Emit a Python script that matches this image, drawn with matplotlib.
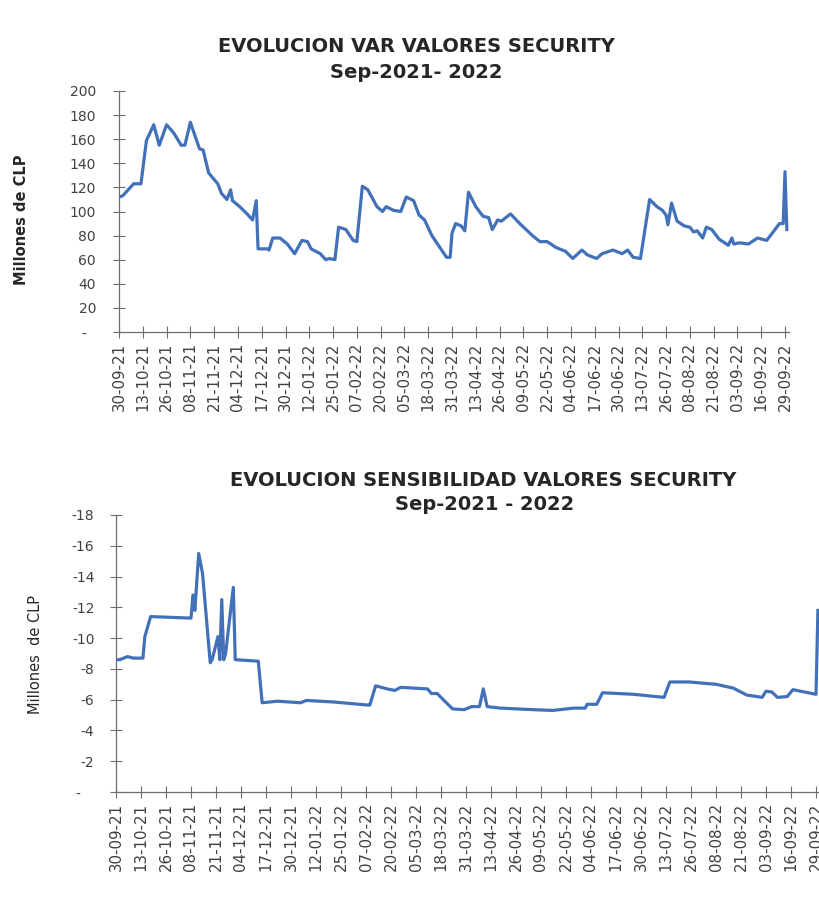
import pandas as pd
import matplotlib
matplotlib.use("Agg")
import matplotlib.pyplot as plt

# VaR (Millones de CLP)
var_dates = ['30-09-21', '02-10-21', '08-10-21', '12-10-21', '15-10-21', '19-10-21', '22-10-21', '26-10-21',
             '30-10-21', '03-11-21', '05-11-21', '08-11-21', '13-11-21', '15-11-21', '18-11-21', '23-11-21',
             '25-11-21', '28-11-21', '30-11-21', '01-12-21', '05-12-21', '09-12-21', '12-12-21', '14-12-21',
             '15-12-21', '20-12-21', '21-12-21', '23-12-21', '27-12-21', '31-12-21', '04-01-22', '08-01-22',
             '11-01-22', '13-01-22', '18-01-22', '21-01-22', '23-01-22', '26-01-22', '28-01-22', '01-02-22',
             '05-02-22', '07-02-22', '10-02-22', '13-02-22', '18-02-22', '21-02-22', '23-02-22', '27-02-22',
             '03-03-22', '06-03-22', '10-03-22', '13-03-22', '16-03-22', '20-03-22', '24-03-22', '28-03-22',
             '30-03-22', '31-03-22', '02-04-22', '05-04-22', '07-04-22', '09-04-22', '13-04-22', '17-04-22',
             '20-04-22', '22-04-22', '25-04-22', '27-04-22', '02-05-22', '07-05-22', '14-05-22', '18-05-22',
             '22-05-22', '27-05-22', '01-06-22', '05-06-22', '10-06-22', '13-06-22', '18-06-22', '21-06-22',
             '27-06-22', '02-07-22', '05-07-22', '08-07-22', '12-07-22', '17-07-22', '21-07-22', '24-07-22',
             '26-07-22', '27-07-22', '29-07-22', '01-08-22', '05-08-22', '08-08-22', '10-08-22', '12-08-22',
             '15-08-22', '17-08-22', '20-08-22', '24-08-22', '29-08-22', '31-08-22', '01-09-22', '04-09-22',
             '09-09-22', '14-09-22', '19-09-22', '21-09-22', '26-09-22', '28-09-22', '29-09-22', '30-09-22']
var_values = [112, 113, 123, 123, 159, 172, 155, 172,
              165, 155, 155, 174, 152, 151, 132, 123,
              115, 110, 118, 109, 104, 98, 93, 109,
              69, 69, 68, 78, 78, 73, 65, 76,
              75, 69, 65, 60, 61, 60, 87, 85,
              76, 75, 121, 118, 104, 100, 104, 101,
              100, 112, 109, 97, 93, 80, 71, 62,
              62, 82, 90, 88, 84, 116, 104, 96,
              95, 85, 93, 92, 98, 90, 80, 75,
              75, 70, 67, 61, 68, 64, 61, 65,
              68, 65, 68, 62, 61, 110, 104, 101,
              97, 89, 107, 92, 88, 87, 83, 84,
              78, 87, 85, 77, 72, 78, 73, 74,
              73, 78, 76, 80, 90, 90, 133, 85]

# sensibilidad (Millones de CLP)
sens_dates = ['30-09-21', '02-10-21', '06-10-21', '09-10-21', '14-10-21', '15-10-21', '18-10-21', '08-11-21',
              '09-11-21', '10-11-21', '12-11-21', '14-11-21', '18-11-21', '19-11-21', '22-11-21', '23-11-21',
              '24-11-21', '25-11-21', '26-11-21', '30-11-21', '01-12-21', '13-12-21', '15-12-21', '23-12-21',
              '04-01-22', '07-01-22', '21-01-22', '08-02-22', '09-02-22', '12-02-22', '18-02-22', '22-02-22',
              '25-02-22', '11-03-22', '13-03-22', '16-03-22', '24-03-22', '30-03-22', '03-04-22', '07-04-22',
              '09-04-22', '11-04-22', '18-04-22', '05-05-22', '15-05-22', '26-05-22', '01-06-22', '02-06-22',
              '07-06-22', '10-06-22', '26-06-22', '12-07-22', '15-07-22', '25-07-22', '08-08-22', '17-08-22',
              '24-08-22', '01-09-22', '03-09-22', '06-09-22', '09-09-22', '14-09-22', '17-09-22', '29-09-22',
              '30-09-22']
sens_values = [-8.6, -8.6, -8.8, -8.7, -8.7, -10.1, -11.4, -11.3,
               -12.8, -11.8, -15.5, -14.2, -8.4, -8.6, -10.1, -8.6,
               -12.5, -8.6, -9.0, -13.3, -8.6, -8.5, -5.8, -5.9,
               -5.8, -5.95, -5.85, -5.65, -5.65, -6.9, -6.7, -6.6,
               -6.8, -6.7, -6.4, -6.4, -5.4, -5.35, -5.55, -5.55,
               -6.7, -5.55, -5.45, -5.35, -5.3, -5.45, -5.45, -5.7,
               -5.7, -6.45, -6.35, -6.15, -7.15, -7.15, -7.0, -6.75,
               -6.3, -6.15, -6.55, -6.5, -6.15, -6.2, -6.65, -6.35,
               -11.8]

var_yticks = [0, 20, 40, 60, 80, 100, 120, 140, 160, 180, 200]
var_ylabels = ['-  ', '20', '40', '60', '80', '100', '120', '140', '160', '180', '200']
sens_yticks = [0, -2, -4, -6, -8, -10, -12, -14, -16, -18]
sens_ylabels = ['-   ', '-2', '-4', '-6', '-8', '-10', '-12', '-14', '-16', '-18']

start = pd.Timestamp('2021-09-30')
xticks = pd.date_range(start, periods=29, freq='13D')
xlabels = [d.strftime('%d-%m-%y') for d in xticks]

line_col = '#4271B9'
axis_col = '#6e6e6e'
text_col = '#404040'

W, H = 820, 899
fig = plt.figure(figsize=(W / 100, H / 100), dpi=100)


def px_axes(left, right, top, bottom):
    return fig.add_axes([left / W, 1 - bottom / H, (right - left) / W, (bottom - top) / H])


def style(ax, ypad):
    for s in ['top', 'right']:
        ax.spines[s].set_visible(False)
    for s in ['left', 'bottom']:
        ax.spines[s].set_color(axis_col)
        ax.spines[s].set_linewidth(0.9)
    ax.tick_params(axis='both', direction='inout', length=9, width=0.8, color=axis_col,
                   labelcolor=text_col, labelsize=10)
    ax.tick_params(axis='y', pad=ypad)
    ax.tick_params(axis='x', pad=3, labelrotation=90, labelsize=10.8)
    ax.set_xticks(xticks)
    ax.set_xticklabels(xlabels)


# top chart
ax1 = px_axes(119, 119 + 366 * 666 / 364, 91, 332)
ax1.plot(pd.to_datetime(var_dates, format='%d-%m-%y'), var_values, color=line_col, lw=2.3)
ax1.set_xlim(start, start + pd.Timedelta(days=366))
ax1.set_ylim(0, 200)
ax1.set_yticks(var_yticks)
ax1.set_yticklabels(var_ylabels)
style(ax1, 12)

fig.text(416 / W, 1 - 47 / H, 'EVOLUCION VAR VALORES SECURITY', ha='center', va='center',
         fontsize=14, fontweight='bold', color='#262626')
fig.text(416 / W, 1 - 73 / H, 'Sep-2021- 2022', ha='center', va='center',
         fontsize=14, fontweight='bold', color='#262626')
fig.text(22 / W, 1 - 220 / H, 'Millones de CLP', rotation=90, ha='center', va='center',
         fontsize=10.5, fontweight='bold', color='#262626')

# bottom chart
ax2 = px_axes(116, 116 + 366 * 700 / 364, 515, 792)
ax2.plot(pd.to_datetime(sens_dates, format='%d-%m-%y'), sens_values, color=line_col, lw=2.3)
ax2.set_xlim(start, start + pd.Timedelta(days=366))
ax2.set_ylim(0, -18)
ax2.set_yticks(sens_yticks)
ax2.set_yticklabels(sens_ylabels)
style(ax2, 11)

fig.text(483 / W, 1 - 480 / H, 'EVOLUCION SENSIBILIDAD VALORES SECURITY', ha='center', va='center',
         fontsize=14, fontweight='bold', color='#262626')
fig.text(485 / W, 1 - 505 / H, 'Sep-2021 - 2022', ha='center', va='center',
         fontsize=14, fontweight='bold', color='#262626')
fig.text(35 / W, 1 - 655 / H, 'Millones  de CLP', rotation=90, ha='center', va='center',
         fontsize=10.5, color='#262626')

fig.savefig('out.png', dpi=100)
